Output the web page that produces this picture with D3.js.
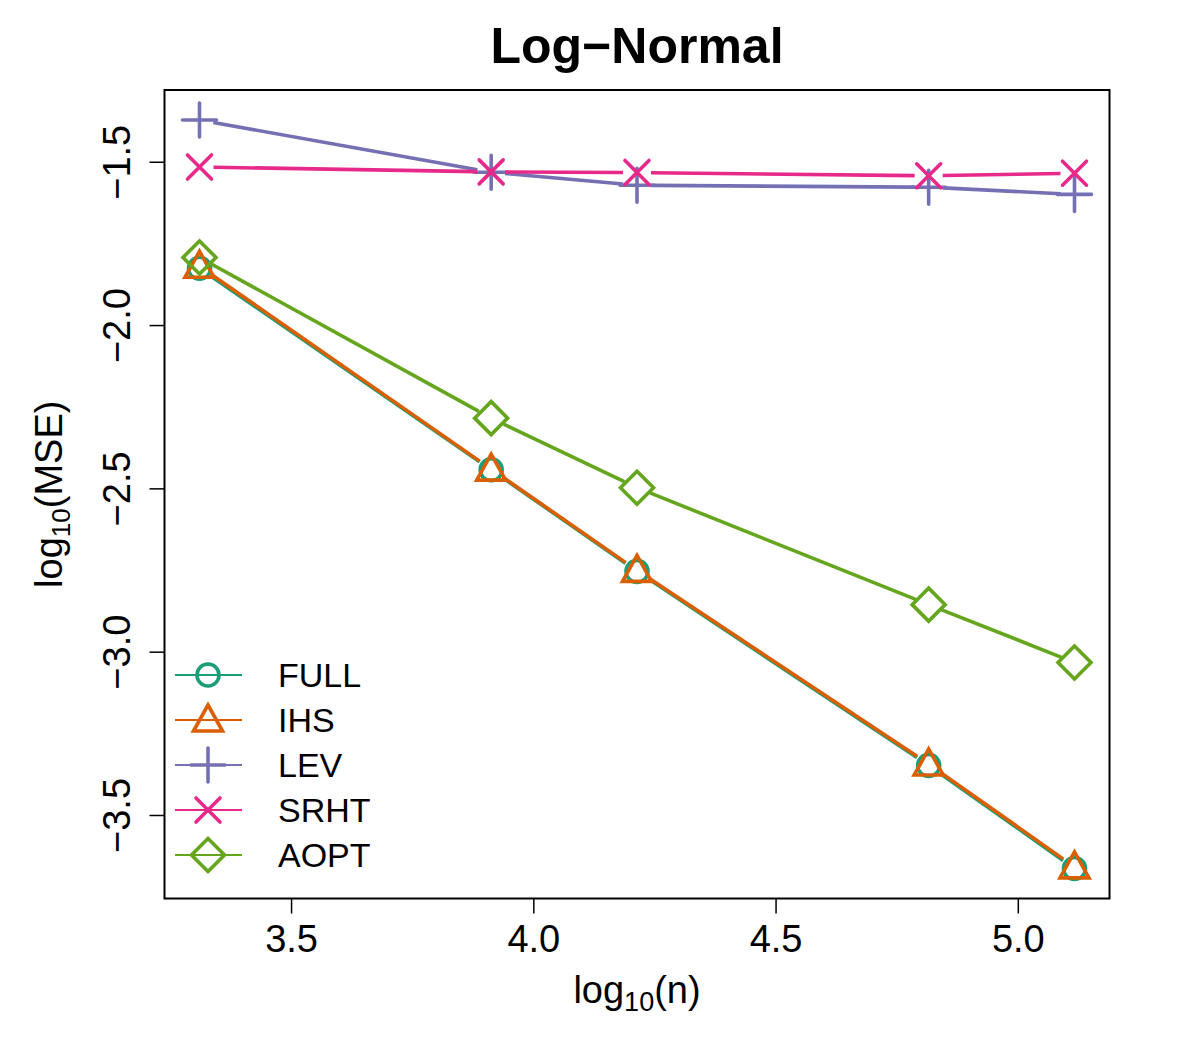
<!DOCTYPE html>
<html>
<head>
<meta charset="utf-8">
<script src="https://cdn.jsdelivr.net/npm/d3@7"></script>
<style>
html,body{margin:0;padding:0;background:#fff;}
text{font-family:"Liberation Sans",Arial,Helvetica,sans-serif;}
</style>
</head>
<body>
<svg id="chart" width="1200" height="1050"></svg>
<script>
// ---- data ----
const logN = [3.311, 3.913, 4.214, 4.816, 5.117];
const seriesNames = ["FULL", "IHS", "LEV", "SRHT", "AOPT"];
const FULL = [-1.826, -2.443, -2.754, -3.348, -3.664];
const IHS  = [-1.820, -2.441, -2.751, -3.344, -3.659];
const LEV  = [-1.372, -1.532, -1.572, -1.578, -1.600];
const SRHT = [-1.516, -1.531, -1.533, -1.543, -1.535];
const AOPT = [-1.793, -2.285, -2.498, -2.856, -3.033];
const xTicks = [3.5, 4.0, 4.5, 5.0];
const yTicks = [-1.5, -2.0, -2.5, -3.0, -3.5];
const colors = ["#1B9E77", "#D95F02", "#7570B3", "#E7298A", "#66A61E"];
const shapes = ["circle", "triangle", "plus", "cross", "diamond"];
const values = [FULL, IHS, LEV, SRHT, AOPT];

const svg = d3.select("#chart");
const L = 164.5, R = 1109.5, T = 90, B = 898.5;

function padExtent(arr) {
  const e = d3.extent(arr); const s = e[1] - e[0];
  return [e[0] - 0.04 * s, e[1] + 0.04 * s];
}
const x = d3.scaleLinear().domain(padExtent(logN)).range([L, R]);
const y = d3.scaleLinear().domain(padExtent(values.flat())).range([B, T]);

const fmt = v => d3.format(".1f")(v).replace("-", "\u2212");

// title
svg.append("text").attr("x", (L + R) / 2).attr("y", 63).attr("text-anchor", "middle")
  .attr("font-size", 50).attr("font-weight", "bold").text("Log\u2212Normal");

// axes
const xAxis = d3.axisBottom(x).tickValues(xTicks).tickSize(15).tickPadding(12).tickFormat(d => d3.format(".1f")(d));
const gx = svg.append("g").attr("transform", `translate(0,${B})`).call(xAxis);
gx.select(".domain").remove();
gx.selectAll(".tick line").attr("stroke", "#000").attr("stroke-width", 1.5);
gx.selectAll(".tick text").attr("font-size", 38).attr("fill", "#000")
  .attr("font-family", "Liberation Sans, Arial, sans-serif").attr("dy", "0.71em");

const yAxis = d3.axisLeft(y).tickValues(yTicks).tickSize(15).tickFormat(fmt);
const gy = svg.append("g").attr("transform", `translate(${L},0)`).call(yAxis);
gy.select(".domain").remove();
gy.selectAll(".tick line").attr("stroke", "#000").attr("stroke-width", 1.5);
gy.selectAll(".tick text").attr("font-size", 38).attr("fill", "#000")
  .attr("font-family", "Liberation Sans, Arial, sans-serif")
  .attr("x", null).attr("dy", null)
  .attr("text-anchor", "middle")
  .attr("transform", "translate(-35,0) rotate(-90)");

// box
svg.append("rect").attr("x", L).attr("y", T).attr("width", R - L).attr("height", B - T)
  .attr("fill", "none").attr("stroke", "#000").attr("stroke-width", 2);

// axis labels
const xl = svg.append("text").attr("x", (L + R) / 2).attr("y", 1003).attr("text-anchor", "middle")
  .attr("font-size", 38);
xl.append("tspan").text("log");
xl.append("tspan").attr("font-size", 27).attr("dy", 8).text("10");
xl.append("tspan").attr("dy", -8).text("(n)");

const yl = svg.append("text").attr("transform", `translate(62,${(T + B) / 2}) rotate(-90)`)
  .attr("text-anchor", "middle").attr("font-size", 38);
yl.append("tspan").text("log");
yl.append("tspan").attr("font-size", 26).attr("dy", 8).text("10");
yl.append("tspan").attr("dy", -8).text("(MSE)");

// marker drawing
function marker(g, shape, cx, cy, color, sw) {
  const s = g.append("g").attr("transform", `translate(${cx},${cy})`)
    .attr("fill", "none").attr("stroke", color).attr("stroke-width", sw).attr("stroke-linecap", "round");
  if (shape === "circle") s.append("circle").attr("r", 11);
  else if (shape === "triangle") s.append("path").attr("d", "M0,-15 L14.5,11 L-14.5,11 Z").attr("stroke-linejoin", "miter");
  else if (shape === "plus") s.append("path").attr("d", "M-17,0 L17,0 M0,-17 L0,17");
  else if (shape === "cross") s.append("path").attr("d", "M-12,-12 L12,12 M-12,12 L12,-12");
  else if (shape === "diamond") s.append("path").attr("d", "M0,-16.5 L16.5,0 L0,16.5 L-16.5,0 Z").attr("stroke-linejoin", "miter");
}

const gap = 14;
const plot = svg.append("g");
values.forEach((vals, si) => {
  const g = plot.append("g");
  const pts = logN.map((lx, i) => [x(lx), y(vals[i])]);
  for (let i = 0; i < pts.length - 1; i++) {
    const [x1, y1] = pts[i], [x2, y2] = pts[i + 1];
    const dx = x2 - x1, dy = y2 - y1, d = Math.hypot(dx, dy);
    if (d <= 2 * gap) continue;
    const ux = dx / d, uy = dy / d;
    g.append("line")
      .attr("x1", x1 + ux * gap).attr("y1", y1 + uy * gap)
      .attr("x2", x2 - ux * gap).attr("y2", y2 - uy * gap)
      .attr("stroke", colors[si]).attr("stroke-width", 3.6);
  }
  pts.forEach(p => marker(g, shapes[si], p[0], p[1], colors[si], 3.6));
});

// legend
const legY0 = 675, legDy = 45;
seriesNames.forEach((name, i) => {
  const yy = legY0 + i * legDy;
  svg.append("line").attr("x1", 175).attr("x2", 242).attr("y1", yy).attr("y2", yy)
    .attr("stroke", colors[i]).attr("stroke-width", 2);
  marker(svg, shapes[i], 208, yy, colors[i], 3.6);
  svg.append("text").attr("x", 278).attr("y", yy + 12).attr("font-size", 34).text(name);
});
</script>
</body>
</html>
